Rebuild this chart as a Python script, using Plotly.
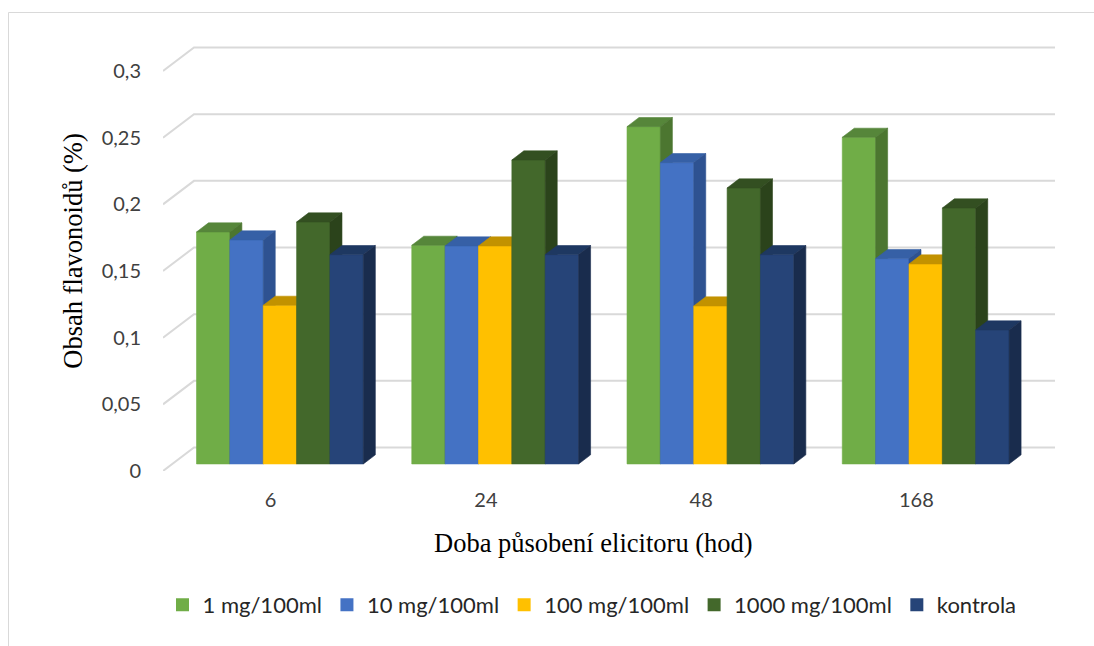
import plotly.graph_objects as go

# ---------------- data ----------------
categories = ["6", "24", "48", "168"]
series_names = ["1 mg/100ml", "10 mg/100ml", "100 mg/100ml", "1000 mg/100ml", "kontrola"]
v_1mg = [0.174, 0.164, 0.253, 0.245]
v_10mg = [0.168, 0.1635, 0.226, 0.154]
v_100mg = [0.119, 0.1635, 0.1185, 0.150]
v_1000mg = [0.1815, 0.228, 0.207, 0.192]
v_kontrola = [0.157, 0.157, 0.157, 0.1005]
y_tickvals = [0, 0.05, 0.1, 0.15, 0.2, 0.25, 0.3]
y_ticktext = ["0", "0,05", "0,1", "0,15", "0,2", "0,25", "0,3"]
x_title = "Doba působení elicitoru (hod)"
y_title = "Obsah flavonoidů (%)"

series_values = [v_1mg, v_10mg, v_100mg, v_1000mg, v_kontrola]

# ---------------- styles ----------------
front_colors = ["#70AD47", "#4472C4", "#FFC000", "#43682B", "#264478"]
top_colors = ["#56863A", "#3660A6", "#C29200", "#334F21", "#1E3861"]
side_colors = ["#4C7630", "#2E5291", "#B08400", "#2B431B", "#192C4D"]
grid_color = "#D9D9D9"
tick_font = dict(family="Lato", size=20, color="#404040")
title_font = dict(family="Liberation Serif", size=26.5, color="#000000")

# ---------------- layout geometry (pixels) ----------------
W, H = 1094, 646
L_PX, R_PX, T_PX, B_PX = 163, 1070, 31, 471
CAT_PX = 215.25          # pixels per category on the front plane
VAL_PX = 1333.3          # pixels per value unit
x_range = [-0.5, -0.5 + (R_PX - L_PX) / CAT_PX]
y_range = [0, (B_PX - T_PX) / VAL_PX]

# oblique depth of the full floor, in data units
DX = 31 / CAT_PX
DY = 23.5 / VAL_PX
F0, F1 = 0.30, 0.687     # bar front / back depth fraction
BAR_W = 0.155            # bar width in category units
n_cat = len(categories)
n_ser = len(series_names)

fig = go.Figure()

# back-wall gridlines with the left-wall diagonal
gx, gy = [], []
for v in y_tickvals:
    gx += [-0.5, -0.5 + DX, n_cat - 0.5 + DX, None]
    gy += [v, v + DY, v + DY, None]
fig.add_trace(go.Scatter(x=gx, y=gy, mode="lines", line=dict(color=grid_color, width=2),
                         hoverinfo="skip", showlegend=False))

bdx = (F1 - F0) * DX
bdy = (F1 - F0) * DY
for i in range(n_cat):
    for j in range(n_ser):
        v = series_values[j][i]
        x0 = i - n_ser / 2 * BAR_W + j * BAR_W + F0 * DX
        x1 = x0 + BAR_W
        y0 = F0 * DY
        y1 = v + F0 * DY
        faces = [
            ([x0, x1, x1, x0, x0], [y0, y0, y1, y1, y0], front_colors[j]),
            ([x0, x1, x1 + bdx, x0 + bdx, x0], [y1, y1, y1 + bdy, y1 + bdy, y1], top_colors[j]),
            ([x1, x1 + bdx, x1 + bdx, x1, x1], [y0, y0 + bdy, y1 + bdy, y1, y0], side_colors[j]),
        ]
        for fx, fy, col in faces:
            fig.add_trace(go.Scatter(x=fx, y=fy, mode="lines", fill="toself", fillcolor=col,
                                     line=dict(color=col, width=0.6), hoverinfo="skip",
                                     name=series_names[j], showlegend=False))

# legend entries
for j in range(n_ser):
    fig.add_trace(go.Scatter(x=[None], y=[None], mode="markers", name=series_names[j],
                             marker=dict(symbol="square", size=13, color=front_colors[j]),
                             showlegend=True))

def px_to_paper_x(px):
    return (px - L_PX) / (R_PX - L_PX)

def px_to_paper_y(py):
    return (B_PX - py) / (B_PX - T_PX)

fig.update_layout(
    width=W, height=H,
    margin=dict(l=L_PX, r=W - R_PX, t=T_PX, b=H - B_PX),
    paper_bgcolor="white", plot_bgcolor="white",
    showlegend=True,
    legend=dict(orientation="h", x=px_to_paper_x(592), xanchor="center",
                y=px_to_paper_y(605), yanchor="middle",
                font=dict(family="Lato", size=22, color="#262626"),
                itemwidth=30, traceorder="normal"),
    xaxis=dict(range=x_range, tickvals=list(range(n_cat)), ticktext=categories,
               showgrid=False, zeroline=False, showline=False, ticks="",
               tickfont=tick_font, ticklabelstandoff=15, fixedrange=True),
    yaxis=dict(range=y_range, tickvals=y_tickvals, ticktext=y_ticktext,
               showgrid=False, zeroline=False, showline=False, ticks="",
               tickfont=tick_font, ticklabelstandoff=21, fixedrange=True,
               title=dict(text=y_title, font=title_font, standoff=11)),
    annotations=[dict(text=x_title, xref="paper", yref="paper",
                      x=px_to_paper_x(593), y=px_to_paper_y(543),
                      xanchor="center", yanchor="middle", showarrow=False,
                      font=title_font)],
    shapes=[dict(type="rect", xref="paper", yref="paper",
                 x0=px_to_paper_x(8.5), x1=px_to_paper_x(1110),
                 y0=px_to_paper_y(700), y1=px_to_paper_y(12.5),
                 line=dict(color="#D9D9D9", width=1), fillcolor="rgba(0,0,0,0)",
                 layer="below")],
)

fig.write_html("out.html")
